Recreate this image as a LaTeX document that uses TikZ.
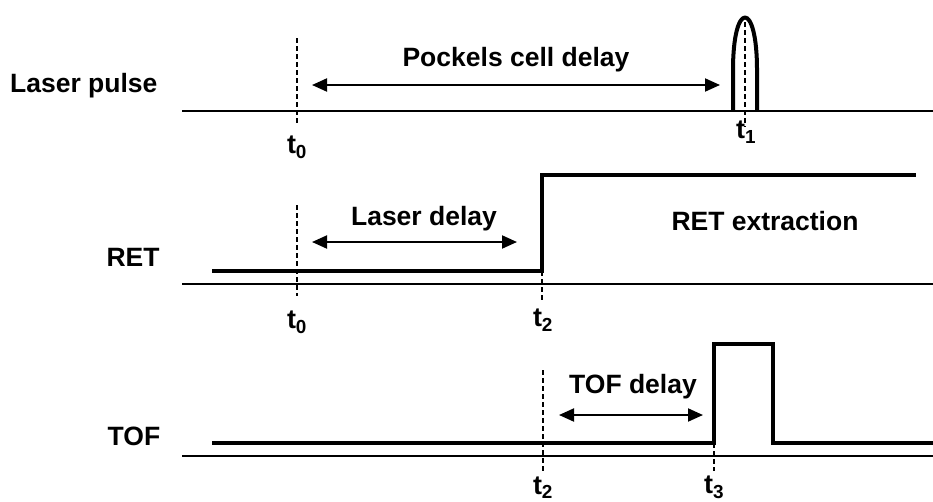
\documentclass[tikz,border=0pt]{standalone}
\usepackage{fontspec}
\setmainfont{Liberation Sans}
\usetikzlibrary{arrows.meta}

\tikzset{
  lbl/.style={font=\fontsize{26.5}{30}\selectfont\bfseries, inner sep=0pt},
  tlbl/.style={font=\fontsize{27}{30}\selectfont\bfseries, inner sep=0pt},
  axisline/.style={line width=1.8pt},
  sigline/.style={line width=3.6pt, line join=miter},
  tmark/.style={line width=1.4pt, dash pattern=on 5pt off 3pt},
  delay/.style={line width=2pt, {Triangle[length=15pt,width=13pt]}-{Triangle[length=15pt,width=13pt]}}
}

\begin{document}
\begin{tikzpicture}[x=1pt, y=-1pt]
  \useasboundingbox (0,0) rectangle (933,501);
  % Laser pulse row
  \node[lbl, anchor=west] (lasername) at (10,86) {Laser pulse};
  \draw[axisline] (182,111) -- (933,111);
  \draw[tmark] (297,38) -- (297,125);
  \node[tlbl] (t0a) at (297,147) {t\textsubscript{0}};
  \coordinate (pcl) at (312,85);
  \coordinate (pcr) at (720,85);
  \draw[delay] (pcl) -- (pcr);
  \node[lbl] (pockels) at (516,60) {Pockels cell delay};
  \draw[line width=4pt, line join=round] (733,111) -- (733,70)
        .. controls (733,0) and (757,0) .. (757,70) -- (757,111);
  \draw[tmark] (745,22) -- (745,127);
  \node[tlbl] (t1) at (746,132) {t\textsubscript{1}};
  % RET row
  \node[lbl] (retname) at (133,257) {RET};
  \draw[axisline] (182,284) -- (933,284);
  \draw[sigline] (212,271) -- (542,271) -- (542,175) -- (916,175);
  \draw[tmark] (297,205) -- (297,296);
  \node[tlbl] (t0b) at (297,322) {t\textsubscript{0}};
  \coordinate (ldl) at (312,242);
  \coordinate (ldr) at (517,242);
  \draw[delay] (ldl) -- (ldr);
  \node[lbl] (laserdelay) at (424,219) {Laser delay};
  \node[lbl] (extract) at (765,221) {RET extraction};
  \draw[tmark] (542,271) -- (542,300);
  \node[tlbl] (t2a) at (543,320) {t\textsubscript{2}};
  % TOF row
  \node[lbl] (tofname) at (134,436) {TOF};
  \draw[axisline] (182,456) -- (933,456);
  \draw[sigline] (212,443) -- (714,443) -- (714,344) -- (773,344) -- (773,443) -- (933,443);
  \draw[tmark] (543,370) -- (543,471);
  \node[tlbl, anchor=south] (t2b) at (543,499) {t\textsubscript{2}};
  \draw[tmark] (714,443) -- (714,471);
  \node[tlbl, anchor=south] (t3) at (714,499) {t\textsubscript{3}};
  \coordinate (tdl) at (559,415);
  \coordinate (tdr) at (703,415);
  \draw[delay] (tdl) -- (tdr);
  \node[lbl] (tofdelay) at (633,387) {TOF delay};
\end{tikzpicture}
\end{document}
